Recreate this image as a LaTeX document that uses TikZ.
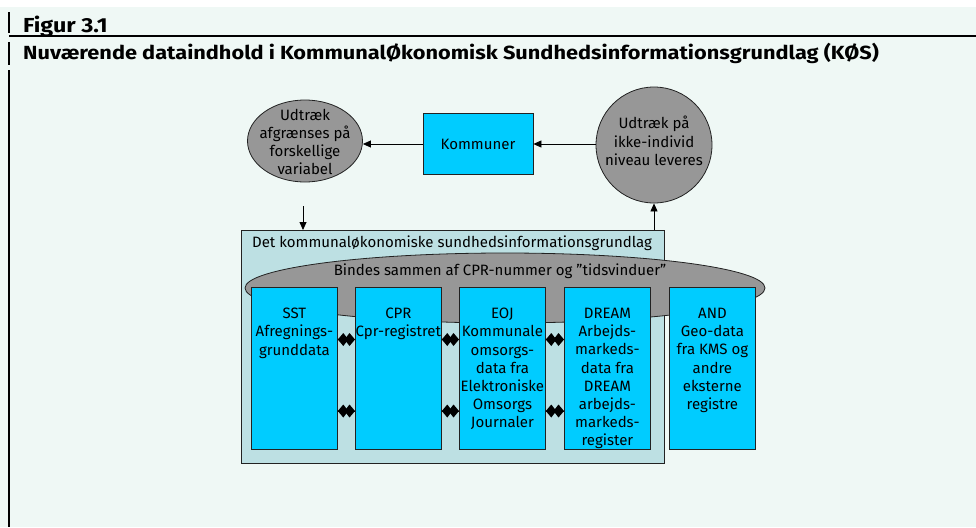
\documentclass[tikz,border=0pt]{standalone}
\usepackage{fontspec}
\setmainfont{Fira Sans}
\usetikzlibrary{arrows.meta,shapes.geometric}
\definecolor{mint}{HTML}{EFF8F5}
\definecolor{teal}{HTML}{BDE0E3}
\definecolor{skyblue}{HTML}{00CCFF}
\definecolor{midgray}{HTML}{979797}
\definecolor{edge}{HTML}{222222}
\tikzset{
  body/.style={font=\fontsize{15}{18.2}\selectfont},
  bluebox/.style={draw=edge, line width=0.8pt, fill=skyblue, rectangle, inner sep=0pt},
  grayblob/.style={draw=edge, line width=0.8pt, fill=midgray, ellipse, inner sep=0pt},
  colbox/.style={bluebox, minimum width=86pt, minimum height=162pt, anchor=north west},
  coltext/.style={body, align=center, anchor=north, inner sep=0pt},
  arr/.style={draw=black, line width=0.8pt, -{Triangle[length=8pt,width=7pt]}},
  linkline/.style={draw=black, line width=1pt},
  frameline/.style={draw=black, line width=1.3pt},
  headtext/.style={anchor=base west, inner sep=0pt}
}
\newcommand\dlink[2]{%
  \draw[linkline] (#1) -- (#2);
  \fill[black] (#1) -- ++(5.5,-6.5) -- ++(5,6.5) -- ++(-5,6.5) -- cycle;
  \fill[black] (#2) -- ++(-5.5,-6.5) -- ++(-5,6.5) -- ++(5,6.5) -- cycle;}
\begin{document}
\begin{tikzpicture}[x=1pt,y=-1pt]
\useasboundingbox (0,0) rectangle (976,527);
\fill[white] (0,0) rectangle (976,527);
\fill[mint] (0,7.5) rectangle (976,527);
\draw[frameline] (9,12.5) -- (9,33);
\draw[frameline] (9,36) -- (976,36);
\draw[frameline] (9,42) -- (9,65);
\draw[frameline] (9,70) -- (9,527);
\node[headtext, font=\fontsize{20.3}{24}\selectfont\bfseries] (fig) at (23,32.3) {\scalebox{1.15}[1]{Figur 3.1}};
\node[headtext, font=\fontsize{19}{23}\selectfont\bfseries] (title) at (23,59.3) {\scalebox{1.145}[1]{Nuværende dataindhold i KommunalØkonomisk Sundhedsinformationsgrundlag (KØS)}};

% top row
\node[grayblob, minimum width=115pt, minimum height=82pt] (ell) at (305,141) {};
\node[body, align=center] (elltext) at (305,142) {Udtræk\\afgrænses på\\forskellige\\variabel};
\node[bluebox, minimum width=110pt, minimum height=61pt, body] (komm) at (478,144) {Kommuner};
\node[grayblob, circle, minimum size=116pt] (circ) at (654,145) {};
\node[body, align=center] (circtext) at (654,141) {Udtræk på\\ikke-individ\\niveau leveres};

% main box
\node[draw=edge, line width=0.8pt, fill=teal, minimum width=423pt, minimum height=233pt, anchor=north west, inner sep=0pt] (kos) at (241,230) {};
\node[body] (kostitle) at (452,243) {Det kommunaløkonomiske sundhedsinformationsgrundlag};
\node[grayblob, minimum width=520pt, minimum height=70pt] (bind) at (505,288) {};
\node[body] (bindtext) at (500,271) {Bindes sammen af CPR-nummer og ”tidsvinduer”};

% columns
\node[colbox] (c1) at (251,287) {};
\node[colbox] (c2) at (355,287) {};
\node[colbox] (c3) at (459,287) {};
\node[colbox] (c4) at (564,287) {};
\node[colbox] (c5) at (669,287) {};
\node[coltext] (t1) at ([yshift=-21pt]c1.north) {SST\\Afregnings-\\grunddata};
\node[coltext] (t2) at ([yshift=-21pt]c2.north) {CPR\\Cpr-registret};
\node[coltext] (t3) at ([yshift=-21pt]c3.north) {EOJ\\Kommunale\\omsorgs-\\data fra\\Elektroniske\\Omsorgs\\Journaler};
\node[coltext] (t4) at ([yshift=-21pt]c4.north) {DREAM\\Arbejds-\\markeds-\\data fra\\DREAM\\arbejds-\\markeds-\\register};
\node[coltext] (t5) at ([yshift=-21pt]c5.north) {AND\\Geo-data\\fra KMS og\\andre\\eksterne\\registre};

% diamond links
\coordinate (ya) at (0,339.5);
\coordinate (yb) at (0,411);
\dlink{c1.east |- ya}{c2.west |- ya}
\dlink{c2.east |- ya}{c3.west |- ya}
\dlink{c3.east |- ya}{c4.west |- ya}
\dlink{c1.east |- yb}{c2.west |- yb}
\dlink{c2.east |- yb}{c3.west |- yb}
\dlink{c3.east |- yb}{c4.west |- yb}

% arrows
\draw[arr] (komm.east -| circ.west) -- (komm.east);
\draw[arr] (komm.west) -- (komm.west -| ell.east);
\coordinate (dtop) at (303,206);
\draw[arr] (dtop) -- (dtop |- kos.north);
\draw[arr] (circ.south |- kos.north) -- (circ.south);
\end{tikzpicture}
\end{document}
